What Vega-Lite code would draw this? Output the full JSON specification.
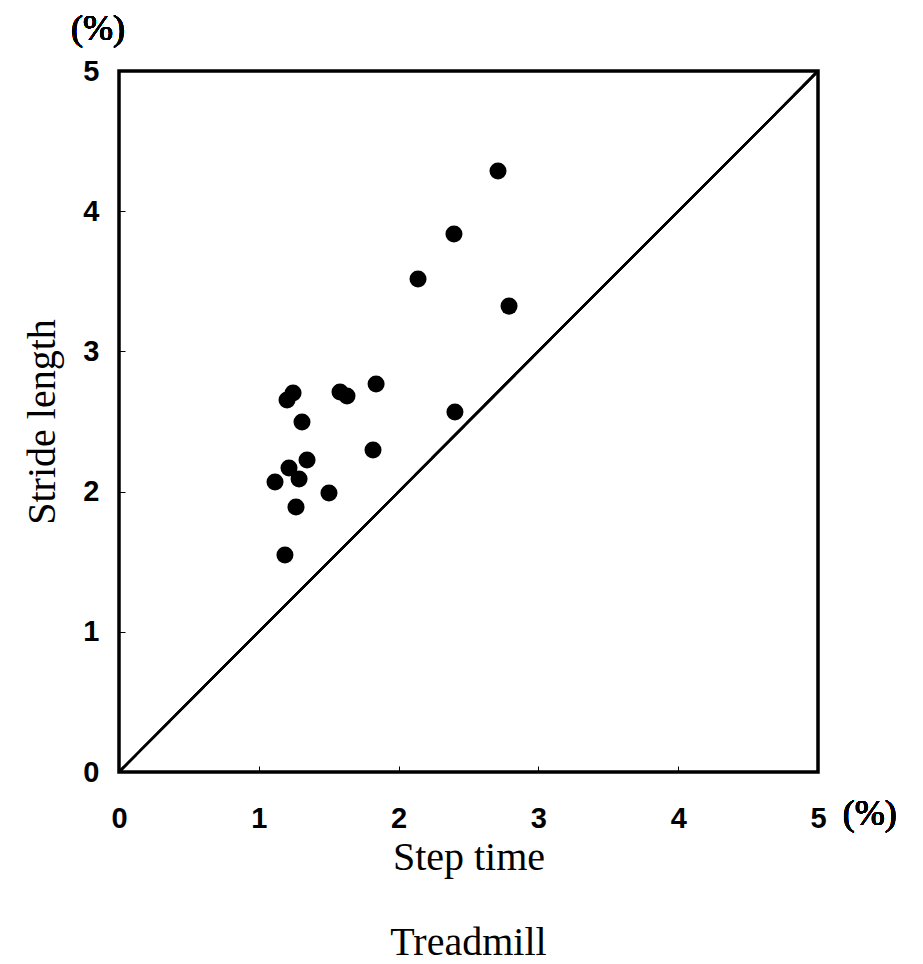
{
  "$schema": "https://vega.github.io/schema/vega-lite/v6.json",
  "width": 699,
  "height": 701,
  "autosize": {"type": "none"},
  "padding": {"left": 119, "top": 71, "right": 105, "bottom": 192},
  "background": "white",
  "title": {
    "text": "Treadmill",
    "orient": "bottom",
    "font": "Liberation Serif",
    "fontSize": 40,
    "fontWeight": "normal",
    "color": "black",
    "offset": 46
  },
  "config": {
    "view": {"stroke": "black", "strokeWidth": 3.5},
    "axis": {
      "grid": false,
      "domain": false,
      "ticks": true,
      "tickSize": -6,
      "tickColor": "black",
      "tickWidth": 1,
      "labelFlush": false,
      "labelFont": "Liberation Sans",
      "labelFontSize": 29,
      "labelFontWeight": "bold",
      "labelColor": "black",
      "titleFont": "Liberation Serif",
      "titleFontSize": 40,
      "titleFontWeight": "normal",
      "titleColor": "black"
    }
  },
  "data": {
    "values": [
      {"step": 2.711, "stride": 4.287},
      {"step": 2.396, "stride": 3.837},
      {"step": 2.139, "stride": 3.516},
      {"step": 2.790, "stride": 3.323},
      {"step": 2.403, "stride": 2.568},
      {"step": 1.202, "stride": 2.653},
      {"step": 1.245, "stride": 2.703},
      {"step": 1.581, "stride": 2.710},
      {"step": 1.631, "stride": 2.682},
      {"step": 1.839, "stride": 2.767},
      {"step": 1.309, "stride": 2.496},
      {"step": 1.817, "stride": 2.297},
      {"step": 1.345, "stride": 2.225},
      {"step": 1.216, "stride": 2.168},
      {"step": 1.288, "stride": 2.090},
      {"step": 1.116, "stride": 2.068},
      {"step": 1.502, "stride": 1.990},
      {"step": 1.266, "stride": 1.890},
      {"step": 1.187, "stride": 1.548}
    ]
  },
  "layer": [
    {
      "mark": {"type": "rule", "color": "black", "strokeWidth": 1.8},
      "encoding": {
        "x": {"datum": 0, "type": "quantitative", "scale": {"domain": [0, 5], "nice": false}},
        "y": {"datum": 0, "type": "quantitative", "scale": {"domain": [0, 5], "nice": false}},
        "x2": {"datum": 5},
        "y2": {"datum": 5}
      }
    },
    {
      "mark": {"type": "circle", "color": "black", "opacity": 1, "size": 290},
      "encoding": {
        "x": {
          "field": "step",
          "type": "quantitative",
          "scale": {"domain": [0, 5], "nice": false},
          "axis": {"title": "Step time", "values": [0, 1, 2, 3, 4, 5], "format": "d", "labelPadding": 38, "titlePadding": 4}
        },
        "y": {
          "field": "stride",
          "type": "quantitative",
          "scale": {"domain": [0, 5], "nice": false},
          "axis": {"title": "Stride length", "values": [0, 1, 2, 3, 4, 5], "format": "d", "labelPadding": 26, "titlePadding": 20}
        }
      }
    },
    {
      "mark": {"type": "text", "text": "(%)", "font": "Liberation Serif", "fontSize": 36, "fontWeight": "normal", "color": "black", "clip": false},
      "encoding": {
        "x": {"datum": -0.15, "type": "quantitative"},
        "y": {"datum": 5.3, "type": "quantitative"}
      }
    },
    {
      "mark": {"type": "text", "text": "(%)", "font": "Liberation Serif", "fontSize": 36, "fontWeight": "normal", "color": "black", "clip": false},
      "encoding": {
        "x": {"datum": 5.37, "type": "quantitative"},
        "y": {"datum": -0.3, "type": "quantitative"}
      }
    }
  ]
}
